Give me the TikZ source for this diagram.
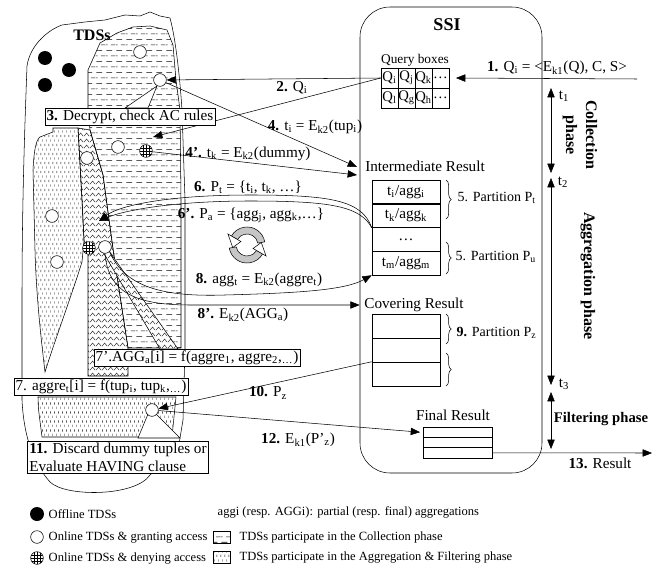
\documentclass[tikz,border=0pt]{standalone}
\usepackage{fontspec}
\setmainfont{Liberation Serif}
\usetikzlibrary{arrows.meta,patterns,decorations.pathreplacing,calc}
\newcommand\mysub[1]{\textsubscript{#1}}
\pgfdeclarepatternformonly{hdash}{\pgfpointorigin}{\pgfqpoint{7.2pt}{8.6pt}}{\pgfqpoint{7.2pt}{8.6pt}}{%
 \pgfsetlinewidth{0.4pt}%
 \pgfpathmoveto{\pgfqpoint{0.2pt}{2.15pt}}\pgfpathlineto{\pgfqpoint{4.8pt}{2.15pt}}%
 \pgfpathmoveto{\pgfqpoint{3.8pt}{6.45pt}}\pgfpathlineto{\pgfqpoint{7.2pt}{6.45pt}}%
 \pgfpathmoveto{\pgfqpoint{0pt}{6.45pt}}\pgfpathlineto{\pgfqpoint{1.2pt}{6.45pt}}%
 \pgfusepath{stroke}}
\pgfdeclarepatternformonly{vdot}{\pgfpointorigin}{\pgfqpoint{3pt}{7pt}}{\pgfqpoint{3pt}{7pt}}{%
 \pgfsetlinewidth{0.35pt}%
 \pgfpathmoveto{\pgfqpoint{0.75pt}{0.8pt}}\pgfpathlineto{\pgfqpoint{0.75pt}{2.6pt}}%
 \pgfpathmoveto{\pgfqpoint{2.25pt}{4.3pt}}\pgfpathlineto{\pgfqpoint{2.25pt}{6.1pt}}%
 \pgfusepath{stroke}}
\pgfdeclarepatternformonly{zigzag}{\pgfpointorigin}{\pgfqpoint{4.5pt}{4.2pt}}{\pgfqpoint{4.5pt}{4.2pt}}{%
 \pgfsetlinewidth{0.3pt}%
 \pgfpathmoveto{\pgfqpoint{0pt}{0.6pt}}\pgfpathlineto{\pgfqpoint{2.25pt}{3.2pt}}\pgfpathlineto{\pgfqpoint{4.5pt}{0.6pt}}%
 \pgfusepath{stroke}}
\begin{document}
\begin{tikzpicture}[x=0.75pt,y=-0.75pt,
  every node/.style={font=\fontsize{11.4}{13}\selectfont},
  arr/.style={-{Triangle[length=7pt,width=5.5pt]}},
  dbl/.style={{Triangle[length=7pt,width=5.5pt]}-{Triangle[length=7pt,width=5.5pt]}},
  onl/.style={circle,draw,fill=white,inner sep=0pt,minimum size=9.5pt},
  offl/.style={circle,fill=black,inner sep=0pt,minimum size=10.5pt},
  deny/.style={onl,path picture={\foreach \dd in {-2.3pt,0pt,2.3pt}{\draw[line width=0.35pt] ([xshift=\dd]path picture bounding box.north) -- ([xshift=\dd]path picture bounding box.south); \draw[line width=0.35pt] ([yshift=\dd]path picture bounding box.west) -- ([yshift=\dd]path picture bounding box.east);}}},
  box/.style={draw,fill=white,inner sep=1.3pt},
  cell/.style={draw,minimum width=12.75pt,minimum height=15pt,inner sep=0pt,font=\fontsize{11}{12}\selectfont},
  row/.style={draw,minimum width=51pt,minimum height=17.8pt,inner sep=0pt},
  frow/.style={draw,minimum width=51.75pt,minimum height=7.75pt,inner sep=0pt},
  brc/.style={decorate,decoration={brace,amplitude=4pt}},
  plab/.style={anchor=west,font=\fontsize{10.5}{12}\selectfont},
  leg/.style={anchor=west,font=\fontsize{9.4}{10}\selectfont},
  phase/.style={font=\bfseries\fontsize{12}{15}\selectfont}
]
\useasboundingbox (0,0) rectangle (671,567);

% ---------- TDSs blob ----------
\draw[fill=white] (27,66) .. controls (30,45) and (48,30) .. (62,25) -- (85,22) -- (105,20) -- (125,15) -- (140,16) -- (150,12) -- (160,16) -- (170,18) .. controls (176,40) and (180,80) .. (182,110) -- (185,200) -- (185,350) -- (183,420) -- (178,450) -- (150,475) .. controls (135,497) and (65,497) .. (50,482) .. controls (35,465) and (24,440) .. (22,400) -- (22,300) .. controls (22,200) and (25,120) .. (27,66) -- cycle;
% collection region (dashes)
\draw[pattern=hdash] (100,43) -- (117,33) -- (133,27) -- (150,26) -- (167,30) -- (173,45) -- (176,80) -- (180,110) -- (181,200) -- (181,348) -- (128,348) -- (115,263) -- (110,227) -- (103,175) -- (90,130) -- (88,110) -- (88,70) -- cycle;
% aggregation region (zigzag)
\draw[pattern=zigzag] (78,128) -- (90,130) -- (103,175) -- (110,227) -- (115,263) -- (128,348) -- (128,376) -- (88,376) -- (88,253) -- (84,240) -- (82,200) -- cycle;
% left dotted leaf
\draw[pattern=vdot] (53,128) -- (78,128) -- (82,200) -- (84,240) -- (82,262) .. controls (70,300) and (55,340) .. (45,372) .. controls (40,330) and (36,290) .. (35,250) -- (33,170) .. controls (34,150) and (36,140) .. (40,137) -- (53,132) -- cycle;
% bottom dotted region
\draw[pattern=vdot] (38,397) -- (176,397) -- (172,437) -- (42,437) .. controls (40,420) and (38,410) .. (38,397) -- cycle;
% callout pointers
\draw[fill=white] (157,86) -- (125,108) -- (148,108) -- cycle;
\draw[fill=white,postaction={pattern=zigzag}] (103,252) -- (160,349) -- (178,349) -- (109,251) -- cycle;
\draw[fill=white] (148,414) -- (138,438) -- (180,438) -- (156,414) -- cycle;

% ---------- circles ----------
\node[offl] (o1) at (45,58) {};
\node[offl] (o2) at (69,70) {};
\node[offl] (o3) at (45,85) {};
\node[onl] (c1) at (140,52) {};
\node[onl] (c2) at (160,80) {};
\node[onl] (c3) at (118,147) {};
\node[onl] (c4) at (87,158) {};
\node[deny] (d1) at (146,151) {};
\node[onl] (c5) at (52,216) {};
\node[onl] (c6) at (57,262) {};
\node[deny] (d2) at (89,248) {};
\node[onl] (c8) at (105,247) {};
\node[onl] (c10) at (152,410) {};
\node[font=\bfseries\fontsize{12}{13}\selectfont] (tdsl) at (92,35) {TDSs};

% ---------- SSI ----------
\node[draw,rounded corners=22.5pt,minimum width=136.5pt,minimum height=349.5pt,inner sep=0pt] (ssi) at (451,240) {};
\node[font=\bfseries\fontsize{13.5}{15}\selectfont] (ssil) at (447,25) {SSI};
\node[font=\fontsize{10}{11}\selectfont] (qbl) at (415,60) {Query boxes};
\node[cell] (q11) at (389.5,78) {Q\mysub{i}};
\node[cell] (q12) at (406.5,78) {Q\mysub{j}};
\node[cell] (q13) at (423.5,78) {Q\mysub{k}};
\node[cell] (q14) at (440.5,78) {…};
\node[cell] (q21) at (389.5,98) {Q\mysub{l}};
\node[cell] (q22) at (406.5,98) {Q\mysub{g}};
\node[cell] (q23) at (423.5,98) {Q\mysub{h}};
\node[cell] (q24) at (440.5,98) {…};

\node (irl) at (425,166) {Intermediate Result};
\node[row] (i1) at (406,191.9) {t\mysub{i}/agg\mysub{i}};
\node[row] (i2) at (406,215.6) {t\mysub{k}/agg\mysub{k}};
\node[row] (i3) at (406,239.4) {…};
\node[row] (i4) at (406,263.1) {t\mysub{m}/agg\mysub{m}};
\draw[brc] (446,180) -- (446,219);
\node[plab] (p5t) at (453,198) {5. Partition P\mysub{t}};
\draw[brc] (446,242) -- (446,274);
\node[plab] (p5u) at (451,257) {5. Partition P\mysub{u}};

\node (crl) at (414,305) {Covering Result};
\node[row,minimum height=18pt] (v1) at (406,326) {};
\node[row,minimum height=18pt] (v2) at (406,350) {};
\node[row,minimum height=18pt] (v3) at (406,374) {};
\draw[brc] (446,314) -- (446,344);
\node[plab] (p9) at (452,333) {\textbf{9.} Partition P\mysub{z}};
\draw[brc] (446,353) -- (446,386);

\node (frl) at (453,415) {Final Result};
\node[frow] (f1) at (457.5,432.2) {};
\node[frow] (f2) at (457.5,442.5) {};
\node[frow] (f3) at (457.5,452.8) {};

% ---------- phases ----------
\coordinate (t1) at (551,88);
\coordinate (t2a) at (551,173);
\coordinate (t2b) at (551,178);
\coordinate (t3a) at (551,385);
\coordinate (t3b) at (551,392);
\coordinate (t4) at (551,449);
\draw[dbl] (t1) -- (t2a);
\draw[dbl] (t2b) -- (t3a);
\draw[dbl] (t3b) -- (t4);
\node (t1l) at (564,96) {t\mysub{1}};
\node (t2l) at (563,182) {t\mysub{2}};
\node (t3l) at (564,384) {t\mysub{3}};
\node[phase,rotate=-90,align=center] (cph) at (580,135) {Collection\\phase};
\node[phase,rotate=-90] (aph) at (588,276) {Aggregation phase};
\node[font=\bfseries\fontsize{11}{12}\selectfont] (fph) at (601,419) {Filtering phase};

% ---------- connectors ----------
\coordinate (qin) at (637,79);
\draw[arr] (qin) -- ([xshift=5pt]q14.east);
\node (l1) at (557,68) {\textbf{1.} Q\mysub{i} = <E\mysub{k1}(Q), C, S>};
\draw[arr] (q11.west) -- (c2);
\coordinate (t3p) at (153,137);
\draw[arr] (q11.west) -- (t3p);
\node (l2) at (292,88) {\textbf{2.} Q\mysub{i}};
\coordinate (ir4) at (357,167);
\draw[arr] (c2) -- (ir4);
\node (l4) at (315,127) {\textbf{4.} t\mysub{i} = E\mysub{k2}(tup\mysub{i})};
\coordinate (ir4b) at (357,175);
\draw[arr] (d1) -- (ir4b);
\node (l4p) at (248,154) {\textbf{4’.} t\mysub{k} = E\mysub{k2}(dummy)};
\coordinate (t6) at (99,221);
\draw[arr] (i2.south west) .. controls (362,200) and (330,195) .. (250,195) .. controls (170,195) and (120,205) .. (t6);
\draw[arr] (i2.south west) .. controls (360,206) and (330,201) .. (250,201) .. controls (175,201) and (125,210) .. (t6);
\node (l6) at (248,187) {\textbf{6.} P\mysub{t} = \{t\mysub{i}, t\mysub{k}, …\}};
\node (l6p) at (251,215) {\textbf{6’.} P\mysub{a} = \{agg\mysub{j}, agg\mysub{k},…\}};
\draw[arr] (c8.south east) .. controls (125,288) and (165,297) .. (225,295) .. controls (300,293) and (345,290) .. (i4.south west);
\node (l8) at (259,280) {\textbf{8.} agg\mysub{t} = E\mysub{k2}(aggre\mysub{t})};
\draw[arr] (c8.south) .. controls (108,292) and (135,305) .. (190,305) -- (crl.west);
\node (l8p) at (243,315) {\textbf{8’.} E\mysub{k2}(AGG\mysub{a})};
\draw[arr] (v3.north west) -- (c10);
\node (l10) at (268,393) {\textbf{10.} P\mysub{z}};
\draw[arr] (c10) -- ([xshift=-2pt]f1.west);
\node (l12) at (298,440) {\textbf{12.} E\mysub{k1}(P’\mysub{z})};
\coordinate (res) at (652,453);
\draw[arr] (f3.east) -- (res);
\node (l13) at (600,463) {\textbf{13.} Result};

% recycle icon
\begin{scope}[shift={(247,245)},y=0.75pt]
  \draw[fill=gray!45] (10:18) arc[start angle=10,end angle=150,radius=18] -- (150:11) arc[start angle=150,end angle=10,radius=11] -- cycle;
  \draw[fill=white] (150:7) -- (150:22) -- (190:14.5) -- cycle;
  \draw[fill=gray!45] (190:18) arc[start angle=190,end angle=330,radius=18] -- (330:11) arc[start angle=330,end angle=190,radius=11] -- cycle;
  \draw[fill=white] (330:7) -- (330:22) -- (10:14.5) -- cycle;
\end{scope}

% ---------- boxes ----------
\node[box] (b3) at (130,116.5) {\textbf{3.} Decrypt, check AC rules};
\node[box] (b7p) at (197,358) {7’.AGG\mysub{a}[i] = f(aggre\mysub{1}, aggre\mysub{2},\mysub{…})};
\node[box] (b7) at (101,386.5) {7. aggre\mysub{t}[i] = f(tup\mysub{i}, tup\mysub{k},\mysub{…})};
\node[box,align=left] (b11) at (118,457.5) {\textbf{11.} Discard dummy tuples or\\Evaluate HAVING clause};

% ---------- legend ----------
\node[offl] (lg1) at (37,514) {};
\node[leg] (lt1) at (44,514) {Offline TDSs};
\node[onl] (lg2) at (37,537) {};
\node[leg] (lt2) at (44,537) {Online TDSs \& granting access};
\node[deny] (lg3) at (37,558) {};
\node[leg] (lt3) at (44,558) {Online TDSs \& denying access};
\node[leg] (lt4) at (213,512) {aggi (resp. AGGi): partial (resp. final) aggregations};
\node[draw,pattern=hdash,minimum width=12.75pt,minimum height=9pt,inner sep=0pt] (lg5) at (221.5,537) {};
\node[leg] (lt5) at (235,537) {TDSs participate in the Collection phase};
\node[draw,pattern=vdot,minimum width=12.75pt,minimum height=9pt,inner sep=0pt] (lg6) at (221.5,557) {};
\node[leg] (lt6) at (235,557) {TDSs participate in the Aggregation \& Filtering phase};
\end{tikzpicture}
\end{document}
